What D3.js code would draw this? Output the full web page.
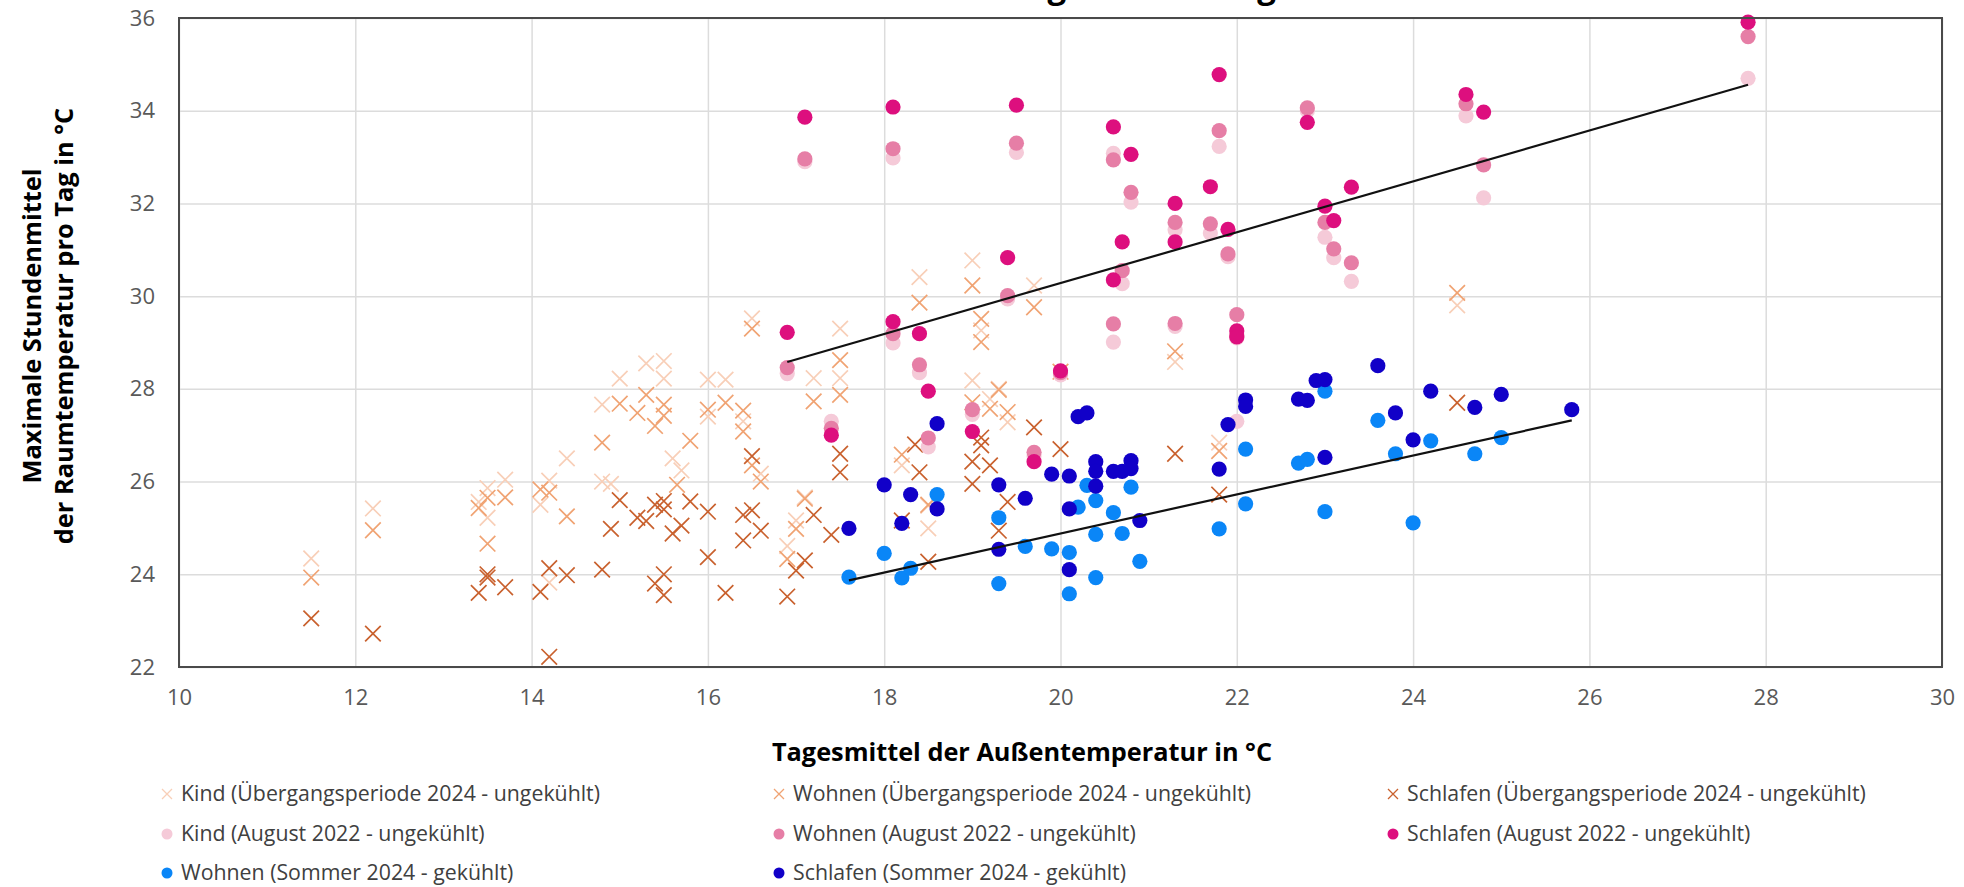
<!DOCTYPE html>
<html>
<head>
<meta charset="utf-8">
<script src="https://cdn.jsdelivr.net/npm/d3@7"></script>
<style>
  body { margin: 0; background: #fff; }
  svg { display: block; font-family: "Open Sans", sans-serif; }
</style>
</head>
<body>
<svg class="chart"></svg>
<script>
// Übergangsperiode 2024 - ungekühlt (x = Außentemperatur, y = Raumtemperatur)
var kindUebergang = [
  [11.5,24.34],[12.2,25.42],[13.4,25.56],[13.5,25.22],[13.5,25.86],[13.7,26.04],[14.1,25.5],[14.2,26.02],
  [14.4,26.5],[14.8,27.66],[14.8,26.0],[15.0,28.22],[15.3,28.55],[15.5,28.6],[15.5,28.22],[15.6,26.5],
  [15.7,26.24],[14.9,25.95],[14.2,23.82],[16.0,28.2],[16.2,28.2],[16.0,27.4],[16.5,29.52],[16.4,27.3],
  [16.6,26.17],[16.9,24.61],[17.0,25.16],[17.1,25.66],[17.2,28.23],[17.5,29.3],[17.5,28.23],[18.4,30.41],
  [19.0,30.77],[19.7,30.23],[19.0,28.18],[19.3,28.0],[19.4,27.28],[18.2,26.35],[18.5,24.99],[18.5,25.48],
  [19.1,29.26],[21.3,28.58],[21.8,26.84],[24.5,29.8],[19.2,27.78]
];
var wohnenUebergang = [
  [11.5,23.93],[12.2,24.95],[13.4,25.43],[13.5,24.66],[13.5,25.65],[13.7,25.66],[14.1,25.83],[14.2,25.76],
  [14.4,25.25],[14.8,26.84],[15.0,27.68],[15.2,27.48],[15.3,27.87],[15.5,27.66],[15.5,27.42],[15.4,27.2],
  [15.8,26.88],[15.65,25.93],[16.0,27.55],[16.2,27.7],[16.4,27.53],[16.4,27.08],[16.5,29.3],[16.6,26.0],
  [16.5,26.35],[17.0,24.98],[16.9,24.33],[17.1,25.63],[17.2,27.73],[17.5,28.62],[17.5,27.87],[18.4,29.86],
  [19.0,30.23],[19.1,29.51],[19.1,29.01],[19.7,29.76],[19.3,27.98],[19.2,27.57],[19.4,27.5],[18.2,26.58],
  [18.5,25.5],[20.0,28.37],[19.0,27.71],[21.3,28.81],[21.8,26.66],[24.5,30.07]
];
var schlafenUebergang = [
  [11.5,23.05],[12.2,22.72],[13.4,23.6],[13.5,24.0],[13.5,23.93],[13.7,23.72],[14.1,23.62],[14.2,24.13],
  [14.2,22.22],[14.4,23.98],[14.8,24.1],[14.9,24.98],[15.0,25.6],[15.2,25.22],[15.3,25.15],[15.4,25.5],
  [15.5,25.58],[15.5,25.4],[15.4,23.8],[15.5,24.0],[15.5,23.55],[15.6,24.88],[15.7,25.05],[15.8,25.57],
  [16.0,25.35],[16.0,24.37],[16.2,23.6],[16.4,25.28],[16.5,25.38],[16.6,24.94],[16.4,24.73],[16.5,26.55],
  [16.9,23.52],[17.0,24.08],[17.1,24.3],[17.2,25.28],[17.4,24.85],[17.5,26.6],[17.5,26.2],[18.2,25.16],
  [18.4,26.2],[18.35,26.8],[18.5,24.27],[19.0,26.43],[19.0,25.95],[19.1,26.78],[19.1,26.95],[19.2,26.35],
  [19.3,24.94],[19.4,25.56],[19.7,27.17],[20.0,26.7],[21.3,26.6],[21.8,25.72],[24.5,27.7]
];

// August 2022 - ungekühlt
var kindAugust = [
  [16.9,28.33],[17.1,32.9],[17.4,27.3],[18.1,32.98],[18.1,28.99],[18.4,28.35],[18.5,26.75],[19.0,27.45],
  [19.4,29.94],[19.5,33.1],[19.7,26.55],[20.0,28.3],[20.6,33.08],[20.6,29.01],[20.7,30.27],[20.8,32.03],
  [21.3,31.43],[21.3,29.35],[21.7,31.36],[21.8,33.23],[21.9,30.85],[22.0,27.3],[22.0,29.1],[22.8,34.0],
  [23.0,31.27],[23.1,30.83],[23.3,30.32],[24.6,33.89],[24.8,32.12],[27.8,34.7]
];
var wohnenAugust = [
  [16.9,28.46],[17.1,32.96],[17.4,27.15],[18.1,33.18],[18.1,29.19],[18.4,28.52],[18.5,26.94],[19.0,27.55],
  [19.4,30.01],[19.5,33.3],[19.7,26.63],[20.0,28.35],[20.6,32.94],[20.6,29.4],[20.7,30.55],[20.8,32.24],
  [21.3,31.59],[21.3,29.41],[21.7,31.56],[21.8,33.57],[21.9,30.91],[22.0,29.6],[22.0,29.15],[22.8,34.06],
  [23.0,31.59],[23.1,31.02],[23.3,30.72],[24.6,34.15],[24.8,32.83],[27.8,35.6]
];
var schlafenAugust = [
  [16.9,29.22],[17.1,33.86],[17.4,27.0],[18.1,34.08],[18.1,29.45],[18.4,29.19],[18.5,27.95],[19.0,27.08],
  [19.4,30.83],[19.5,34.12],[19.7,26.43],[20.0,28.39],[20.6,33.65],[20.6,30.35],[20.7,31.17],[20.8,33.06],
  [21.3,32.0],[21.3,31.17],[21.7,32.36],[21.8,34.78],[21.9,31.44],[22.0,29.25],[22.0,29.12],[22.8,33.75],
  [23.0,31.94],[23.1,31.63],[23.3,32.35],[24.6,34.35],[24.8,33.97],[27.8,35.91]
];

// Sommer 2024 - gekühlt
var wohnenSommer = [
  [17.6,23.94],[18.0,24.45],[18.2,23.92],[18.3,24.13],[18.6,25.72],[19.3,25.22],[19.3,23.8],[19.6,24.6],
  [19.9,24.55],[20.1,24.47],[20.1,23.58],[20.2,25.45],[20.3,25.92],[20.4,25.59],[20.4,24.86],[20.4,23.93],
  [20.6,25.33],[20.7,24.88],[20.8,25.88],[20.9,24.28],[21.8,24.98],[22.1,26.7],[22.1,25.52],[22.7,26.4],
  [22.8,26.48],[23.0,27.95],[23.0,25.35],[23.6,27.32],[23.8,26.6],[24.0,25.11],[24.2,26.88],[24.7,26.6],
  [25.0,26.95]
];
var schlafenSommer = [
  [17.6,24.99],[18.0,25.93],[18.3,25.72],[18.2,25.1],[18.6,27.25],[18.6,25.41],[19.3,25.93],[19.3,24.54],
  [19.6,25.64],[19.9,26.16],[20.1,26.12],[20.1,25.41],[20.1,24.1],[20.2,27.4],[20.3,27.48],[20.4,26.43],
  [20.4,26.22],[20.4,25.9],[20.6,26.22],[20.7,26.22],[20.8,26.45],[20.8,26.28],[20.9,25.16],[21.8,26.27],
  [21.9,27.23],[22.1,27.76],[22.1,27.62],[22.7,27.78],[22.8,27.75],[22.9,28.18],[23.0,28.2],[23.0,26.52],
  [23.6,28.5],[23.8,27.48],[24.0,26.9],[24.2,27.95],[24.7,27.6],[25.0,27.88],[25.8,27.55]
];

// trend lines (start / end)
var trendAugust = [[16.9,28.58],[27.8,34.56]];
var trendSommer = [[17.6,23.87],[25.8,27.32]];

var xTicks = [10,12,14,16,18,20,22,24,26,28,30];
var yTicks = [22,24,26,28,30,32,34,36];

var series = [
  { name: 'Kind (Übergangsperiode 2024 - ungekühlt)', data: kindUebergang, shape: 'x', color: '#f8cfb8' },
  { name: 'Wohnen (Übergangsperiode 2024 - ungekühlt)', data: wohnenUebergang, shape: 'x', color: '#f0a373' },
  { name: 'Schlafen (Übergangsperiode 2024 - ungekühlt)', data: schlafenUebergang, shape: 'x', color: '#c9612e' },
  { name: 'Kind (August 2022 - ungekühlt)', data: kindAugust, shape: 'dot', color: '#f5cad8' },
  { name: 'Wohnen (August 2022 - ungekühlt)', data: wohnenAugust, shape: 'dot', color: '#e67ea6' },
  { name: 'Schlafen (August 2022 - ungekühlt)', data: schlafenAugust, shape: 'dot', color: '#dd0f7e' },
  { name: 'Wohnen (Sommer 2024 - gekühlt)', data: wohnenSommer, shape: 'dot', color: '#0a86f7' },
  { name: 'Schlafen (Sommer 2024 - gekühlt)', data: schlafenSommer, shape: 'dot', color: '#1100c8' }
];

var margin = { top: 18, left: 179, right: 22, bottom: 220 },
    width = 1964 - margin.left - margin.right,
    height = 887 - margin.top - margin.bottom;

var svg = d3.select('.chart')
    .attr('width', 1964)
    .attr('height', 887);

// title sits above the visible area, only its descenders show
svg.append('text')
    .attr('x', 1070)
    .attr('y', -2)
    .attr('text-anchor', 'middle')
    .style('font-size', '33px')
    .style('font-weight', 'bold')
    .text('Die Wirkung der Kühlung');

var chart = svg.append('g')
    .attr('transform', 'translate(' + margin.left + ',' + margin.top + ')');

var x = d3.scaleLinear().domain([10, 30]).range([0, width]);
var y = d3.scaleLinear().domain([22, 36]).range([height, 0]);

// gridlines
chart.append('g')
    .call(d3.axisBottom(x).tickValues(xTicks).tickSize(height).tickFormat(''))
    .call(function (g) { g.select('.domain').remove(); })
    .selectAll('line').attr('stroke', '#dcdcdc').attr('stroke-width', 1.5);

chart.append('g')
    .call(d3.axisLeft(y).tickValues(yTicks).tickSize(-width).tickFormat(''))
    .call(function (g) { g.select('.domain').remove(); })
    .selectAll('line').attr('stroke', '#dcdcdc').attr('stroke-width', 1.5);

// tick labels
var xAxis = chart.append('g')
    .attr('transform', 'translate(0,' + height + ')')
    .call(d3.axisBottom(x).tickValues(xTicks).tickSize(0).tickPadding(22));
var yAxis = chart.append('g')
    .call(d3.axisLeft(y).tickValues(yTicks).tickSize(0).tickPadding(24));
[xAxis, yAxis].forEach(function (a) {
    a.select('.domain').remove();
    a.selectAll('text')
        .style('font-family', '"Open Sans", sans-serif')
        .style('font-size', '22px')
        .attr('fill', '#595959');
});

// markers
var xPath = function (s) {
    return 'M' + (-s) + ',' + (-s) + 'L' + s + ',' + s + 'M' + (-s) + ',' + s + 'L' + s + ',' + (-s);
};

series.forEach(function (s) {
    var g = chart.append('g');
    if (s.shape === 'x') {
        g.selectAll('path').data(s.data).enter().append('path')
            .attr('transform', function (d) { return 'translate(' + x(d[0]) + ',' + y(d[1]) + ')'; })
            .attr('d', xPath(7.8))
            .attr('fill', 'none')
            .attr('stroke', s.color)
            .attr('stroke-width', 1.7);
    } else {
        g.selectAll('circle').data(s.data).enter().append('circle')
            .attr('cx', function (d) { return x(d[0]); })
            .attr('cy', function (d) { return y(d[1]); })
            .attr('r', 7.6)
            .attr('fill', s.color);
    }
});

// trend lines
var line = d3.line().x(function (d) { return x(d[0]); }).y(function (d) { return y(d[1]); });
[trendAugust, trendSommer].forEach(function (t) {
    chart.append('path').attr('d', line(t))
        .attr('fill', 'none').attr('stroke', '#111').attr('stroke-width', 2.2);
});

// plot frame
chart.append('rect')
    .attr('width', width).attr('height', height)
    .attr('fill', 'none').attr('stroke', '#4a4a4a').attr('stroke-width', 2);

// axis titles
svg.append('text')
    .attr('x', 1022).attr('y', 761)
    .attr('text-anchor', 'middle')
    .style('font-size', '25.3px').style('font-weight', 'bold')
    .text('Tagesmittel der Außentemperatur in °C');

var yTitle = svg.append('text')
    .attr('transform', 'translate(0,326) rotate(-90)')
    .attr('text-anchor', 'middle')
    .style('font-size', '25.4px').style('font-weight', 'bold');
yTitle.append('tspan').attr('x', 0).attr('y', 41).text('Maximale Stundenmittel');
yTitle.append('tspan').attr('x', 0).attr('y', 73).text('der Raumtemperatur pro Tag in °C');

// legend
var legendCols = [167, 779, 1393], legendRows = [794, 834, 873];
var legend = svg.selectAll('.legend').data(series).enter().append('g')
    .attr('class', 'legend')
    .attr('transform', function (d, i) {
        return 'translate(' + legendCols[i % 3] + ',' + legendRows[Math.floor(i / 3)] + ')';
    });
legend.each(function (d) {
    var g = d3.select(this);
    if (d.shape === 'x') {
        g.append('path').attr('d', xPath(5)).attr('fill', 'none')
            .attr('stroke', d.color).attr('stroke-width', 1.3);
    } else {
        g.append('circle').attr('r', 5.5).attr('fill', d.color);
    }
});
legend.append('text')
    .attr('x', 14).attr('dy', '0.35em')
    .style('font-size', '21.3px')
    .attr('fill', '#404040')
    .text(function (d) { return d.name; });
</script>
</body>
</html>
